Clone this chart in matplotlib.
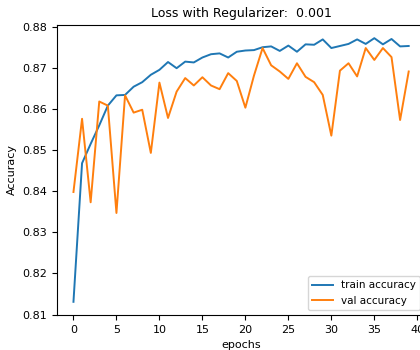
import matplotlib
matplotlib.use("Agg")
import matplotlib.pyplot as plt

epochs = list(range(40))

train_acc = [0.8131, 0.8468, 0.8515, 0.8560, 0.8608, 0.8633, 0.8634, 0.8654,
             0.8665, 0.8683, 0.8695, 0.8714, 0.8699, 0.8715, 0.8713, 0.8725,
             0.8733, 0.8735, 0.8725, 0.8739, 0.8742, 0.8743, 0.8750, 0.8752,
             0.8741, 0.8754, 0.8739, 0.8757, 0.8756, 0.8769, 0.8748, 0.8753,
             0.8758, 0.8769, 0.8758, 0.8772, 0.8757, 0.8770, 0.8752, 0.8753]

val_acc = [0.8398, 0.8576, 0.8373, 0.8618, 0.8608, 0.8347, 0.8633, 0.8591,
           0.8598, 0.8493, 0.8664, 0.8578, 0.8642, 0.8675, 0.8657, 0.8677,
           0.8657, 0.8648, 0.8687, 0.8668, 0.8603, 0.8681, 0.8748, 0.8706,
           0.8691, 0.8673, 0.8711, 0.8678, 0.8665, 0.8634, 0.8535, 0.8693,
           0.8711, 0.8679, 0.8748, 0.8719, 0.8748, 0.8726, 0.8573, 0.8691]

fig = plt.figure(figsize=(4.2, 3.5), dpi=100)
ax = fig.add_axes([0.135, 0.10, 0.878, 0.8286])

ax.plot(epochs, train_acc, color="#1f77b4", lw=1.4, label="train accuracy")
ax.plot(epochs, val_acc, color="#ff7f0e", lw=1.4, label="val accuracy")

ax.set_title("Loss with Regularizer:  0.001", fontsize=9)
ax.set_xlabel("epochs", fontsize=8)
ax.set_ylabel("Accuracy", fontsize=8)
ax.tick_params(labelsize=8)
ax.legend(loc="lower right", fontsize=7.5)

fig.savefig("out.png", dpi=100)
